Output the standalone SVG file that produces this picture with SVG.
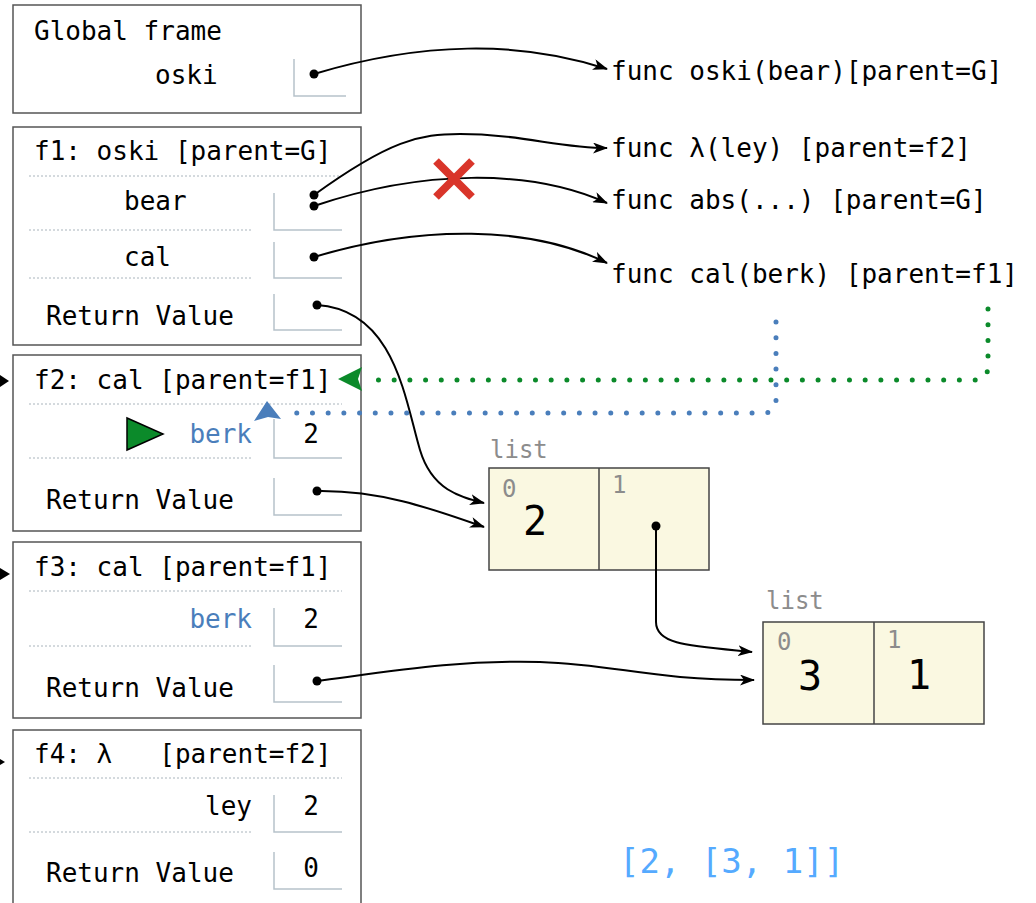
<svg xmlns="http://www.w3.org/2000/svg" width="1036" height="903" viewBox="0 0 1036 903">
<defs>
<style>
.t{font-family:"DejaVu Sans Mono","Liberation Mono",monospace;font-size:26px;fill:#000;white-space:pre}
.blue{fill:#4a7ebb}
.frame{fill:#fff;stroke:#555;stroke-width:1.5}
.sep{stroke:#a9b4bc;stroke-width:1;stroke-dasharray:2 2;fill:none}
.box{stroke:#b6c2ca;stroke-width:1.5;fill:none}
.dot{fill:#000}
.arr{fill:none;stroke:#000;stroke-width:2;marker-end:url(#ah)}
.lst{fill:#faf8e1;stroke:#444;stroke-width:1.5}
.idx{font-family:"DejaVu Sans Mono",monospace;font-size:24px;fill:#8c8c8c}
.val{font-family:"DejaVu Sans Mono",monospace;font-size:40px;fill:#000;text-anchor:middle}
</style>
<marker id="ah" viewBox="0 0 15 11" refX="14" refY="5.5" markerWidth="15" markerHeight="11" markerUnits="userSpaceOnUse" orient="auto">
<path d="M0,0 L15,5.5 L0,11 L4,5.5 z" fill="#000"/>
</marker>
</defs>
<rect width="1036" height="903" fill="#fff"/>

<g id="global">
<rect class="frame" x="13" y="5" width="348" height="108"/>
<text class="t" x="34" y="40">Global frame</text>
<text class="t" x="155" y="84">oski</text>
<path class="box" d="M294,59 V96 H346"/>
<circle class="dot" cx="314" cy="74" r="4.5"/>
</g>

<g id="f1">
<rect class="frame" x="13" y="127" width="348" height="218"/>
<text class="t" x="34" y="160">f1: oski [parent=G]</text>
<line class="sep" x1="29" y1="176" x2="342" y2="176"/>
<text class="t" x="124" y="210">bear</text>
<path class="box" d="M274,193 V230 H342"/>
<circle class="dot" cx="314" cy="195" r="4.5"/>
<circle class="dot" cx="314" cy="206" r="4.5"/>
<line class="sep" x1="29" y1="230" x2="253" y2="230"/>
<text class="t" x="124" y="266">cal</text>
<path class="box" d="M274,242 V278 H342"/>
<circle class="dot" cx="314" cy="257" r="4.5"/>
<line class="sep" x1="29" y1="278" x2="253" y2="278"/>
<text class="t" x="46" y="325">Return Value</text>
<path class="box" d="M274,294 V330 H342"/>
<circle class="dot" cx="317" cy="305" r="4.5"/>
</g>

<g id="f2">
<rect class="frame" x="13" y="355" width="348" height="176"/>
<text class="t" x="34" y="389">f2: cal [parent=f1]</text>
<line class="sep" x1="29" y1="404" x2="342" y2="404"/>
<polygon points="127,418 127,450 163,434" fill="#0b8a2a" stroke="#000" stroke-width="1.5"/>
<text class="t blue" x="252" y="443" text-anchor="end">berk</text>
<path class="box" d="M274,419 V458 H342"/>
<text class="t" x="311" y="443" text-anchor="middle">2</text>
<line class="sep" x1="29" y1="458" x2="253" y2="458"/>
<text class="t" x="46" y="509">Return Value</text>
<path class="box" d="M274,478 V515 H342"/>
<circle class="dot" cx="317" cy="491" r="4.5"/>
</g>

<g id="f3">
<rect class="frame" x="13" y="542" width="348" height="176"/>
<text class="t" x="34" y="576">f3: cal [parent=f1]</text>
<line class="sep" x1="29" y1="591" x2="342" y2="591"/>
<text class="t blue" x="252" y="628" text-anchor="end">berk</text>
<path class="box" d="M274,608 V646 H342"/>
<text class="t" x="311" y="628" text-anchor="middle">2</text>
<line class="sep" x1="29" y1="646" x2="253" y2="646"/>
<text class="t" x="46" y="697">Return Value</text>
<path class="box" d="M274,665 V702 H342"/>
<circle class="dot" cx="317" cy="681" r="4.5"/>
</g>

<g id="f4">
<rect class="frame" x="13" y="730" width="348" height="180"/>
<text class="t" x="34" y="763">f4: λ   [parent=f2]</text>
<line class="sep" x1="29" y1="778" x2="342" y2="778"/>
<text class="t" x="252" y="815" text-anchor="end">ley</text>
<path class="box" d="M274,795 V832 H342"/>
<text class="t" x="311" y="815" text-anchor="middle">2</text>
<line class="sep" x1="29" y1="832" x2="253" y2="832"/>
<text class="t" x="46" y="882">Return Value</text>
<path class="box" d="M274,852 V889 H342"/>
<text class="t" x="311" y="877" text-anchor="middle">0</text>
</g>

<g id="funcs">
<text class="t" x="611" y="80">func oski(bear)[parent=G]</text>
<text class="t" x="611" y="157">func λ(ley) [parent=f2]</text>
<text class="t" x="611" y="209">func abs(...) [parent=G]</text>
<text class="t" x="611" y="283">func cal(berk) [parent=f1]</text>
</g>

<g id="list1">
<text class="idx" x="490" y="458">list</text>
<rect class="lst" x="489" y="468" width="220" height="102"/>
<line x1="599" y1="468" x2="599" y2="570" stroke="#444" stroke-width="1.5"/>
<text class="idx" x="502" y="497">0</text>
<text class="idx" x="612" y="493">1</text>
<text class="val" x="535" y="535">2</text>
<circle class="dot" cx="656" cy="526" r="4.5"/>
</g>

<g id="list2">
<text class="idx" x="766" y="609">list</text>
<rect class="lst" x="763" y="622" width="221" height="102"/>
<line x1="874" y1="622" x2="874" y2="724" stroke="#444" stroke-width="1.5"/>
<text class="idx" x="777" y="650">0</text>
<text class="idx" x="887" y="648">1</text>
<text class="val" x="810" y="690">3</text>
<text class="val" x="919" y="689">1</text>
</g>

<g id="result">
<text x="619" y="873" style="font-family:'DejaVu Sans Mono',monospace;font-size:34px;fill:#55aaff;white-space:pre">[2, [3, 1]]</text>
</g>

<g id="connectors">
<path class="arr" d="M314,74 C420,42 520,40 607,69"/>
<path class="arr" d="M314,195 C390,140 420,134 460,134 C520,134 560,148 607,148"/>
<path class="arr" d="M314,206 C420,170 530,168 607,203"/>
<path class="arr" d="M314,257 C420,225 530,225 607,263"/>
<path class="arr" d="M317,305 C395,310 405,400 420,450 C432,490 460,497 484,503"/>
<path class="arr" d="M317,491 C380,490 430,508 484,527"/>
<path class="arr" d="M656,526 L656,622 C656,645 690,646 752,652"/>
<path class="arr" d="M317,681 C400,670 460,660 540,662 C620,665 650,680 754,680"/>
<path d="M988,309 L988,366 Q988,380 974,380 L372,380" fill="none" stroke="#0b8a2a" stroke-width="5" stroke-linecap="round" stroke-dasharray="0 15.7"/>
<polygon points="338,379 362,367 358,379 362,391" fill="#0b8a2a"/>
<path d="M776,322 L776,400 Q776,413 763,413 L282,413" fill="none" stroke="#4a7ebb" stroke-width="5" stroke-linecap="round" stroke-dasharray="0 15.7"/>
<polygon points="267,401 281,419 268,417 254,421" fill="#4a7ebb"/>
<polygon points="0,375 9,381 0,387" fill="#000"/>
<polygon points="0,568 10,574 0,580" fill="#000"/>
<polygon points="0,759 5,762 0,765" fill="#000"/>
<g stroke="#d9352a" stroke-width="8">
<line x1="436" y1="161" x2="472" y2="197"/>
<line x1="472" y1="161" x2="436" y2="197"/>
</g>
</g>
</svg>
